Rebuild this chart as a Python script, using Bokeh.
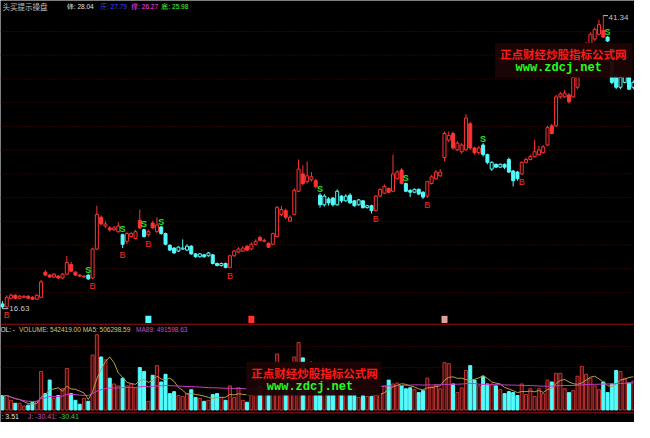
import numpy as np
import pandas as pd
from bokeh.plotting import figure
from bokeh.models import Range1d, ColumnDataSource, Span, Label, BoxAnnotation
from bokeh.core.properties import value
from bokeh.embed import file_html
from bokeh.resources import INLINE

# ---------------- data ----------------
opens = [17.03, 16.78, 17.51, 17.76, 17.51, 17.59, 17.68, 17.59, 17.43, 17.59,
         19.71, 19.46, 19.30, 19.38, 19.22, 19.54, 20.36, 19.71, 19.46, 19.30,
         19.46, 19.22, 21.66, 24.34, 23.60, 23.44, 23.28, 23.12, 22.87, 22.31,
         22.71, 22.55, 24.09, 23.28, 22.87, 23.85, 23.12, 23.52, 22.96, 21.98,
         21.74, 21.49, 21.66, 21.57, 21.90, 21.25, 21.01, 21.17, 21.09, 21.17,
         20.44, 20.27, 20.44, 20.11, 21.09, 21.41, 21.49, 21.90, 21.66, 22.06,
         22.63, 22.31, 22.14, 22.06, 22.71, 24.58, 24.90, 24.01, 24.58, 26.53,
         27.99, 27.34, 27.50, 27.42, 26.20, 25.39, 25.88, 25.96, 25.39, 26.12,
         25.72, 26.20, 25.72, 25.39, 25.72, 25.15, 25.31, 24.90, 26.12, 26.37,
         26.77, 26.53, 27.59, 28.32, 27.18, 26.61, 26.45, 26.69, 26.45, 26.12,
         27.18, 27.59, 27.83, 29.37, 30.84, 31.40, 30.02, 29.86, 30.02, 32.22,
         30.18, 29.78, 30.43, 29.62, 28.40, 28.80, 28.56, 28.80, 29.21, 28.24,
         28.15, 27.99, 28.97, 29.21, 29.45, 29.62, 29.78, 30.43, 32.05, 32.05,
         34.49, 34.49, 34.65, 34.49, 35.30, 36.52, 37.58, 38.55, 39.36, 39.77,
         40.10, 39.53, 38.55, 36.36, 35.30, 35.71, 36.12, 35.30]
closes = [16.78, 17.59, 17.76, 17.51, 17.68, 17.68, 17.51, 17.43, 17.76, 18.89,
          19.46, 19.30, 19.54, 19.22, 19.54, 20.52, 19.79, 19.46, 19.38, 19.38,
          19.14, 21.66, 24.58, 23.77, 23.77, 23.28, 23.44, 23.60, 22.06, 22.96,
          22.96, 23.12, 23.44, 22.71, 23.12, 23.44, 23.69, 22.96, 22.06, 21.57,
          21.33, 21.82, 21.74, 21.90, 21.25, 21.01, 21.25, 21.01, 21.33, 20.44,
          20.27, 20.44, 20.11, 21.09, 21.49, 21.66, 21.74, 21.57, 22.06, 22.31,
          22.39, 22.39, 21.82, 22.96, 25.15, 24.99, 24.34, 24.34, 26.61, 28.40,
          27.18, 27.83, 27.75, 26.94, 25.39, 26.12, 25.55, 25.39, 26.53, 25.72,
          26.12, 25.55, 25.31, 25.80, 25.15, 25.31, 24.90, 26.12, 26.69, 26.94,
          26.45, 27.99, 28.15, 27.18, 26.53, 26.45, 26.69, 26.29, 26.04, 27.34,
          27.75, 28.15, 28.15, 31.40, 31.24, 30.18, 30.59, 30.43, 32.70, 30.18,
          29.78, 30.18, 29.62, 28.97, 28.97, 28.56, 28.80, 28.56, 28.15, 27.42,
          27.59, 28.97, 29.21, 29.45, 29.86, 30.02, 30.27, 31.89, 31.40, 34.49,
          34.73, 34.81, 34.08, 36.12, 36.68, 37.74, 38.96, 39.77, 40.18, 40.58,
          39.53, 39.20, 35.71, 35.30, 36.12, 36.28, 35.14, 35.71]
highs = [17.27, 17.76, 17.92, 17.84, 17.80, 17.76, 17.76, 17.68, 17.84, 19.06,
         19.87, 19.54, 19.62, 19.46, 19.62, 21.09, 20.60, 19.79, 19.54, 19.46,
         19.54, 21.74, 25.31, 24.50, 24.01, 23.60, 23.60, 23.93, 22.96, 23.12,
         23.12, 23.28, 24.99, 23.36, 23.28, 24.01, 24.34, 23.60, 23.04, 22.06,
         21.82, 21.90, 22.47, 22.06, 21.98, 21.33, 21.33, 21.25, 21.41, 21.25,
         20.52, 20.52, 20.52, 21.17, 21.57, 21.82, 21.90, 21.98, 22.23, 22.47,
         22.79, 22.55, 22.23, 23.04, 25.31, 25.31, 25.07, 24.50, 26.77, 29.21,
         28.72, 29.05, 28.15, 27.59, 26.37, 26.29, 26.04, 26.04, 26.69, 26.20,
         26.29, 26.37, 25.80, 25.88, 25.80, 25.39, 25.39, 26.20, 26.77, 27.10,
         26.85, 29.62, 28.32, 28.48, 27.26, 26.69, 26.77, 26.77, 26.53, 27.42,
         27.91, 28.32, 28.40, 31.57, 31.57, 31.57, 30.75, 30.59, 33.03, 32.38,
         30.27, 30.35, 30.59, 29.70, 29.05, 28.88, 28.88, 28.88, 29.37, 28.32,
         28.24, 29.05, 29.37, 29.62, 30.84, 30.35, 30.43, 32.05, 32.22, 34.65,
         34.90, 35.06, 34.81, 36.28, 36.85, 37.90, 39.12, 39.93, 40.34, 40.99,
         41.34, 39.61, 38.63, 36.52, 36.28, 36.52, 36.28, 35.87]
lows = [16.63, 16.70, 17.43, 17.43, 17.45, 17.51, 17.45, 17.38, 17.38, 17.51,
        19.38, 19.22, 19.22, 19.14, 19.14, 19.46, 19.71, 19.38, 19.30, 19.22,
        19.06, 19.14, 21.57, 23.69, 23.44, 23.12, 23.20, 23.04, 21.74, 22.06,
        22.63, 22.47, 23.36, 22.63, 22.71, 23.36, 23.04, 22.87, 21.98, 21.49,
        21.25, 21.41, 21.57, 21.49, 21.17, 20.93, 20.93, 20.93, 21.01, 20.36,
        20.19, 20.19, 20.03, 20.03, 21.01, 21.33, 21.41, 21.49, 21.57, 21.98,
        22.31, 22.23, 21.74, 21.98, 22.63, 24.42, 24.17, 23.93, 24.50, 26.45,
        27.02, 27.18, 27.34, 26.77, 25.15, 25.23, 25.31, 25.23, 25.31, 25.55,
        25.63, 25.47, 25.23, 25.31, 25.07, 25.07, 24.66, 24.82, 26.04, 26.29,
        26.37, 26.45, 27.50, 27.10, 26.45, 26.04, 26.37, 26.20, 25.88, 25.96,
        27.10, 27.50, 27.75, 29.05, 30.67, 30.02, 29.94, 29.70, 29.94, 30.02,
        29.62, 29.62, 29.45, 28.80, 28.24, 28.48, 28.48, 28.40, 28.07, 26.94,
        27.42, 27.91, 28.88, 29.13, 29.37, 29.53, 29.70, 30.35, 31.32, 31.97,
        34.33, 34.40, 33.92, 34.40, 35.14, 36.44, 37.50, 38.47, 39.20, 39.69,
        39.45, 39.12, 35.55, 35.14, 35.14, 35.63, 35.06, 35.14]
volumes = [273000, 273000, 182000, 127000, 127000, 73000, 91000, 146000, 164000, 728000,
           309000, 564000, 218000, 273000, 400000, 783000, 309000, 182000, 109000, 218000,
           164000, 1037000, 1420000, 1000000, 946000, 600000, 491000, 455000, 600000, 455000,
           491000, 418000, 800000, 728000, 164000, 655000, 837000, 528000, 673000, 309000,
           346000, 273000, 255000, 309000, 382000, 237000, 218000, 164000, 182000, 291000,
           309000, 237000, 182000, 455000, 237000, 418000, 182000, 146000, 420000, 380000,
           450000, 400000, 480000, 600000, 1056000, 820000, 637000, 455000, 1000000, 1274000,
           983000, 728000, 546000, 600000, 500000, 450000, 480000, 420000, 500000, 400000,
           380000, 450000, 400000, 237000, 273000, 255000, 255000, 364000, 309000, 455000,
           564000, 491000, 510000, 455000, 400000, 418000, 382000, 328000, 364000, 600000,
           437000, 473000, 400000, 892000, 874000, 491000, 328000, 418000, 746000, 837000,
           564000, 455000, 637000, 491000, 491000, 455000, 382000, 309000, 346000, 328000,
           273000, 491000, 291000, 400000, 255000, 400000, 309000, 564000, 528000, 692000,
           692000, 400000, 328000, 364000, 637000, 819000, 673000, 600000, 455000, 382000,
           528000, 328000, 491000, 746000, 728000, 600000, 510000, 542419]
# runs of candles inside the "sell" (cyan) zone, inclusive index ranges
sell_zone_runs = [(0, 0), (20, 20), (28, 28), (33, 33), (37, 52), (74, 86),
                  (94, 98), (112, 120), (141, 147)]
buy_signals = [1, 21, 28, 34, 53, 87, 99, 121]
sell_signals = [20, 28, 33, 37, 74, 94, 112, 141]
info_days = [34, 58, 103]
price_grid = [18, 20, 22, 24, 26, 28, 30, 32, 34, 36, 38, 40]
volume_grid = [400000, 800000, 1200000]
low_label = "16.63"
high_label = "41.34"

# ---------------- colours ----------------
RED = "#ff3232"
CYAN = "#54fcfc"
BG = "#000000"

n = len(closes)
idx = np.arange(n)
o = np.array(opens); c = np.array(closes)
h = np.array(highs); l = np.array(lows)
vol = np.array(volumes, dtype=float)
in_sell = np.zeros(n, dtype=bool)
for a, b in sell_zone_runs:
    in_sell[a:b + 1] = True
up = c >= o
col = np.where(in_sell, CYAN, RED)
body_fill = np.where(up, BG, col)

# helpers mapping reference-pixel layout -> data space (for annotations only)
def ax(xr):
    return (xr - 2) / 4.4

def ay(yr):
    return 18 + (303 - yr) / 12.31

VOL_PER_PX = 18180.0

p = figure(width=634, height=422, output_backend="svg", toolbar_location=None,
           x_range=Range1d(ax(0), ax(650)), y_range=Range1d(ay(438), ay(0)),
           background_fill_color=BG, border_fill_color=BG,
           x_axis_location=None, y_axis_location=None, min_border=0)
p.outline_line_color = None
p.grid.visible = False
p.extra_y_ranges = {"vol": Range1d(-13 * VOL_PER_PX, 425 * VOL_PER_PX)}

# grid lines
for g in price_grid:
    p.add_layout(Span(location=g, dimension="width", line_color="#5a0808",
                      line_dash="1 2", line_width=1, level="underlay"))
for g in volume_grid:
    p.add_layout(Span(location=g, dimension="width", line_color="#5a0808",
                      line_dash="1 2", line_width=1, level="underlay", y_range_name="vol"))
# panel separators
p.add_layout(Span(location=ay(336), dimension="width", line_color="#a01010", line_width=1))
p.add_layout(Span(location=ay(428), dimension="width", line_color="#a01010", line_width=1))

# ---------------- candles ----------------
src = ColumnDataSource(dict(x=idx, o=o, c=c, h=h, l=l,
                            top=np.maximum(o, c), bot=np.minimum(o, c),
                            col=col, fill=body_fill, vol=vol,
                            vcol=np.where(up, "#c83232", CYAN),
                            vfill=np.where(up, "#3c0a0a", CYAN)))
p.segment(x0="x", y0="h", x1="x", y1="l", color="col", line_width=1, source=src)
p.vbar(x="x", top="top", bottom="bot", width=0.7, fill_color="fill",
       line_color="col", line_width=1, source=src)

# volume bars
p.vbar(x="x", top="vol", bottom=0, width=0.7, fill_color="vfill", line_color="vcol",
       line_width=1, source=src, y_range_name="vol")
ma5 = pd.Series(vol).rolling(5, min_periods=1).mean().values
ma89 = pd.Series(vol).rolling(89, min_periods=1).mean().values
p.line(idx, ma5, line_color="#b4a046", line_width=1, y_range_name="vol")
p.line(idx, ma89, line_color="#c83cc8", line_width=1, y_range_name="vol")

# B / S signals
bi = np.array(buy_signals); si = np.array(sell_signals)
p.text(x=bi, y=l[bi] - 0.62, text=["B"] * len(bi), text_color="#ff2828",
       text_font=value("Liberation Sans"), text_font_size="9px",
       text_align="center", text_baseline="middle")
p.text(x=si, y=h[si] + 0.38, text=["S"] * len(si), text_color="#20e020",
       text_font=value("Liberation Sans"), text_font_size="9px", text_font_style="bold",
       text_align="center", text_baseline="middle")

# info markers at bottom of main panel
ii = np.array(info_days)
p.rect(x=ii, y=[ay(331)] * len(ii), width=1.4, height=0.6,
       fill_color=[CYAN, RED, "#e0a0a0"], line_color=None)

# high / low labels
p.segment(x0=[0, 140], y0=[16.63, 41.34], x1=[1.4, 141.1], y1=[16.63, 41.34],
          line_color="#c8c8c8", line_width=1)
p.add_layout(Label(x=1.6, y=16.63, text=low_label, text_color="#c8c8c8",
                   text_font="Liberation Sans", text_font_size="8px", text_baseline="middle"))
p.add_layout(Label(x=141.2, y=41.2, text=high_label, text_color="#c8c8c8",
                   text_font="Liberation Sans", text_font_size="8px", text_baseline="middle"))

# ---------------- header texts ----------------
def lab(xr, yr, text, color, size="7px", font="Liberation Sans"):
    p.add_layout(Label(x=ax(xr), y=ay(yr), text=text, text_color=color,
                       text_font=font, text_font_size=size, text_baseline="middle"))

lab(2, 6, "头买提示操盘", "#c0c0c0", "7.5px", "Noto Sans CJK SC")
lab(68, 6, "锋: 28.04", "#e0e0e0", "6.5px")
lab(102, 6, "压: 27.79", "#4040ff", "6.5px")
lab(134, 6, "撑: 26.27", "#ff40ff", "6.5px")
lab(165, 6, "底: 25.98", "#40ff40", "6.5px")

lab(0, 341, "OL: -", "#e0e0e0", "6.5px")
lab(19, 341, "VOLUME: 542419.00 MA5: 506298.59", "#d2c878", "6.5px")
lab(139, 341, "MA89: 491598.63", "#c850c8", "6.5px")

lab(1, 432, ": 3.51", "#e0e0e0", "7px")
lab(28, 432, "J: -30.41", "#c850c8", "7px")
lab(56, 432, ": -30.41", "#40d040", "7px")

# ---------------- watermarks ----------------
def watermark(x0, y0, x1, y1):
    p.add_layout(BoxAnnotation(left=ax(x0), right=ax(x1), top=ay(y0), bottom=ay(y1),
                               fill_color="#1c0404", fill_alpha=0.96, line_color=None))
    p.add_layout(Label(x=ax(x0 + 5), y=ay(y0 + 12), text="正点财经炒股指标公式网",
                       text_color="#ff1a1a", text_font="Noto Sans CJK SC",
                       text_font_size="11.5px", text_font_style="bold", text_baseline="middle"))
    p.add_layout(Label(x=ax(x0 + 21), y=ay(y0 + 26), text="www.zdcj.net",
                       text_color="#22ff22", text_font="Liberation Mono",
                       text_font_size="12px", text_font_style="bold", text_baseline="middle"))

watermark(507, 44, 648, 80)
watermark(252, 375, 390, 410)

open("out.html", "w").write(file_html(p, INLINE))
